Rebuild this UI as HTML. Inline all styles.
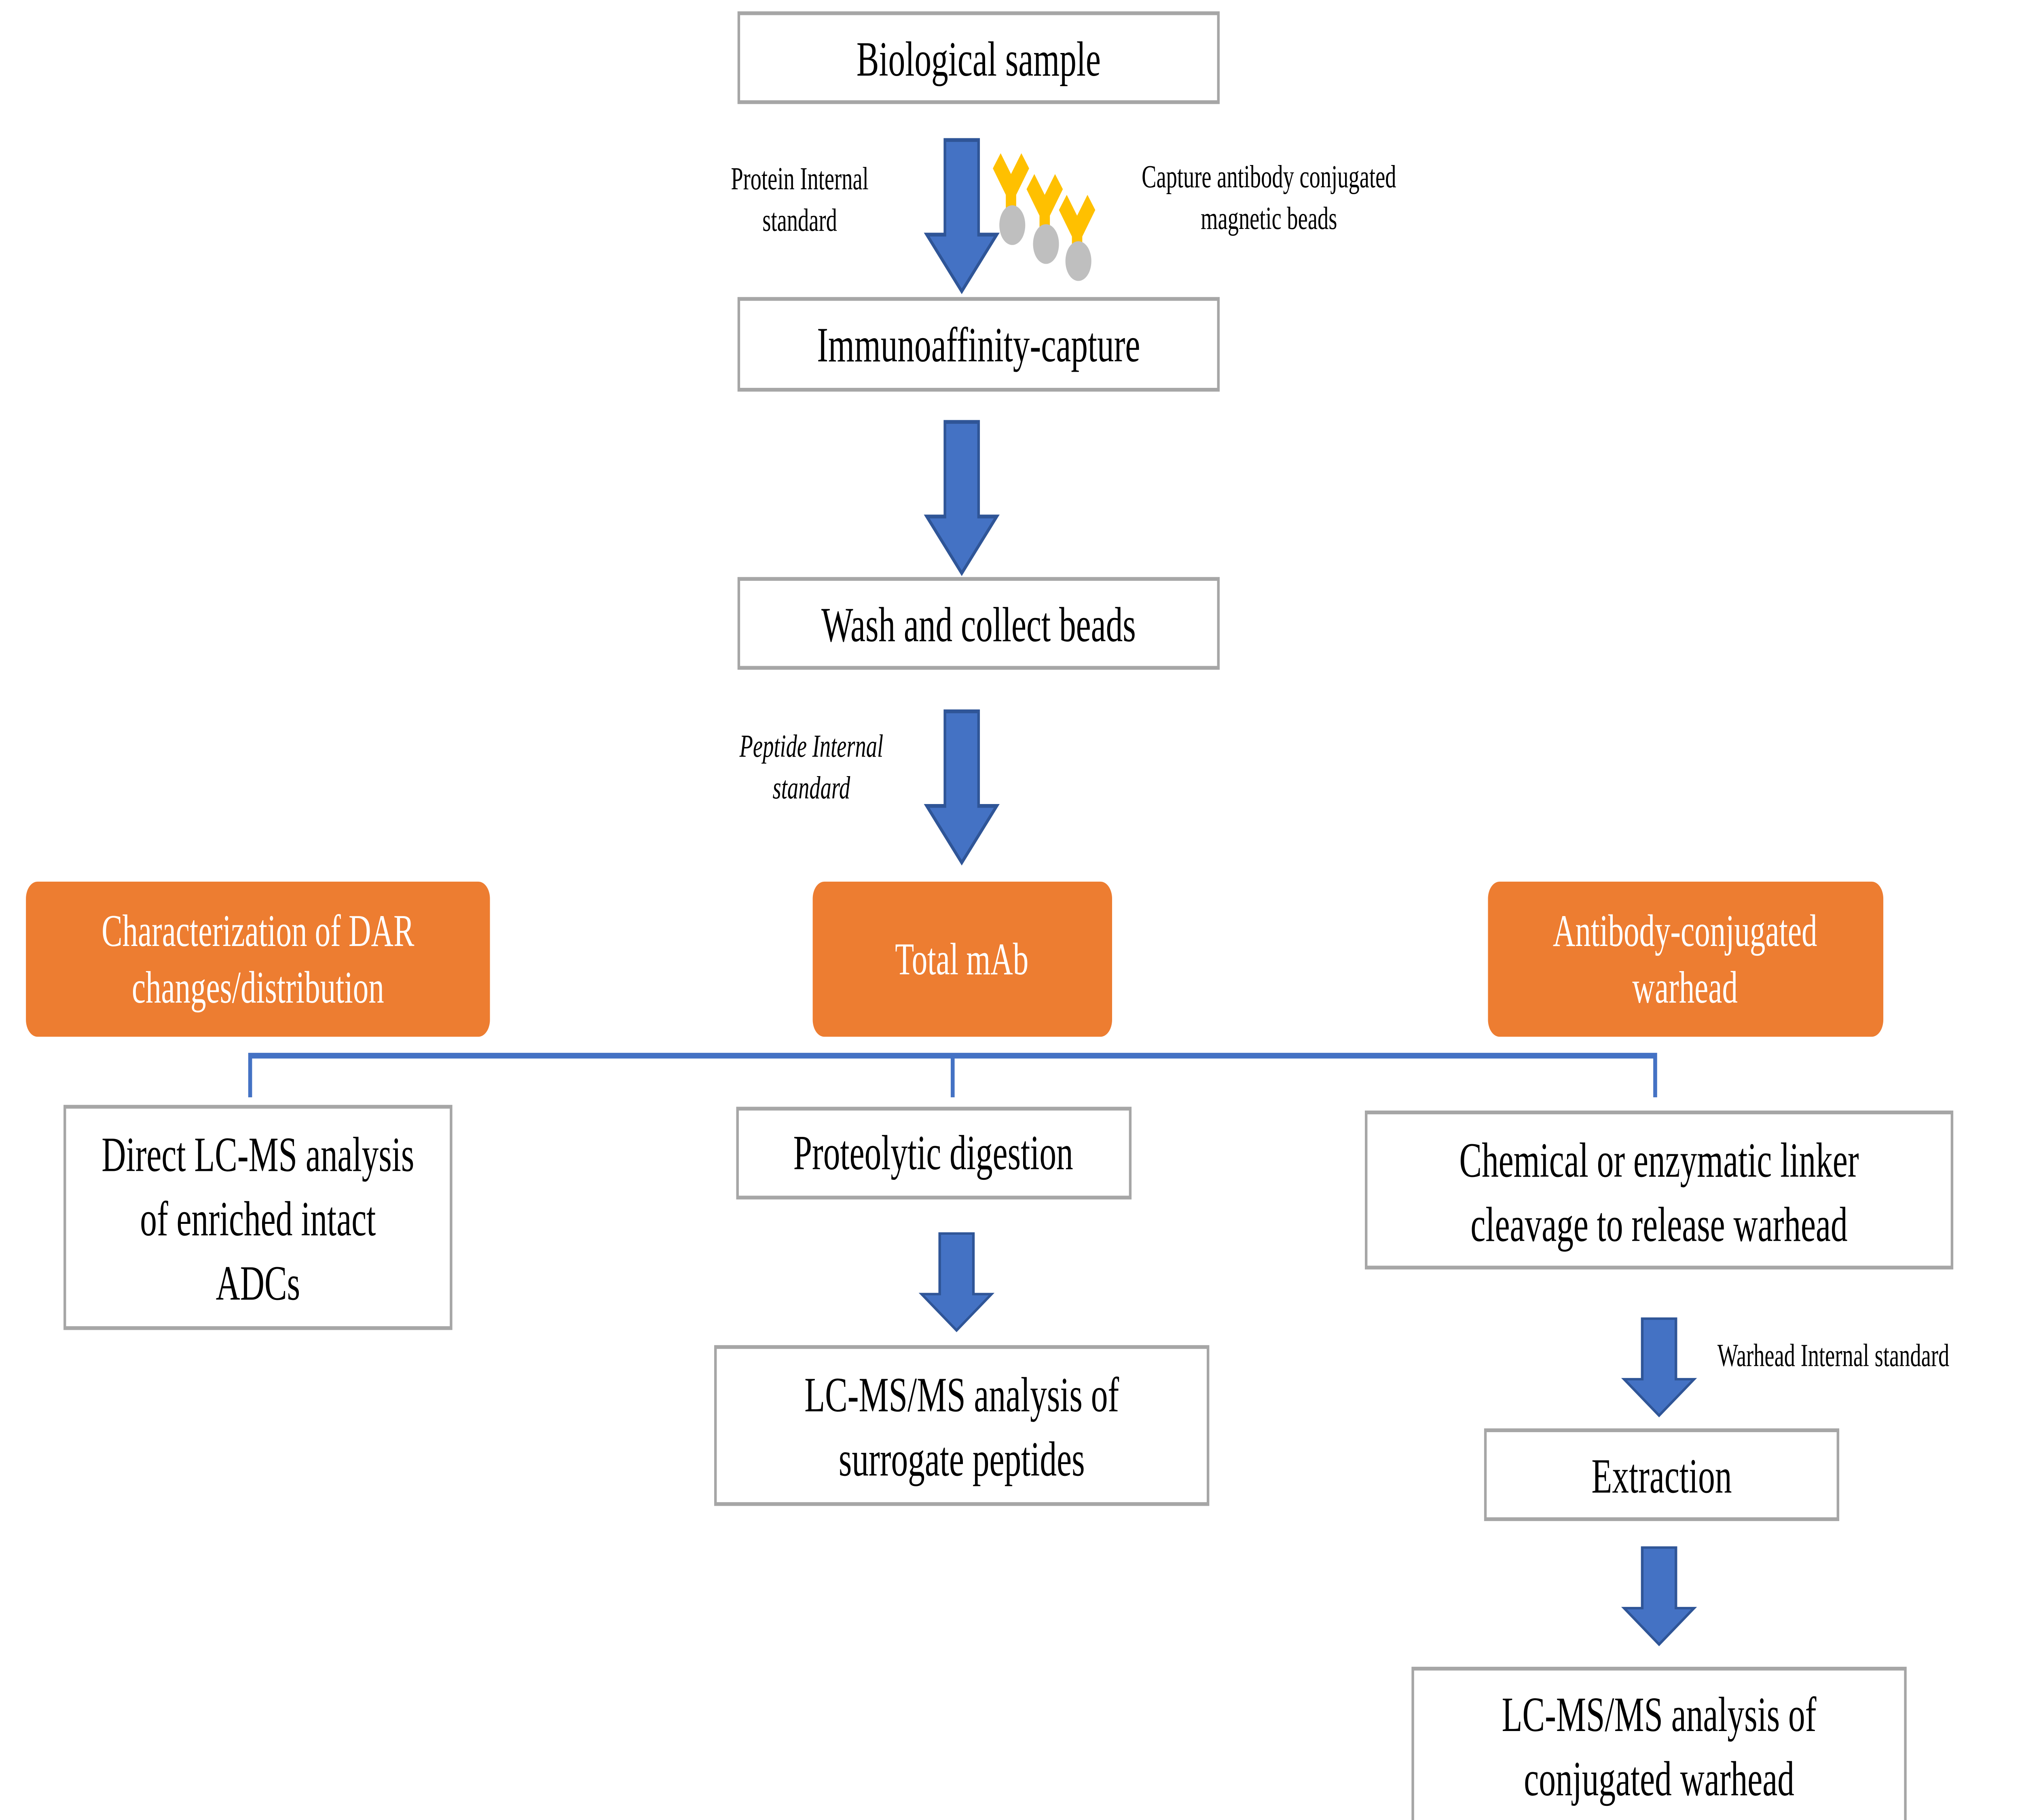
<!DOCTYPE html>
<html><head><meta charset="utf-8"><style>
html,body{margin:0;padding:0;background:#fff;width:100%;height:100%;overflow:hidden}
svg{display:block;position:fixed;left:0;top:0;width:100vw;height:100vh}
text{font-family:"Liberation Serif",serif}
.w{fill:#fff}
.k{fill:#000}
</style></head><body>
<svg viewBox="0 0 1560 962" preserveAspectRatio="none" xmlns="http://www.w3.org/2000/svg">
<defs>
<g id="arr"><path d="M-13,0 H13 V50 H27 L0,80 L-27,50 H-13 Z" fill="#4472C4" stroke="#2F5597" stroke-width="2"/></g>
</defs>
<g fill="#fff" stroke="#A6A6A6" stroke-width="2">
<rect x="570" y="7" width="370" height="47"/>
<rect x="570" y="158" width="370" height="48"/>
<rect x="570" y="306" width="370" height="47"/>
<rect x="50" y="585" width="298" height="117"/>
<rect x="569" y="586" width="303" height="47"/>
<rect x="552" y="712" width="380" height="83"/>
<rect x="1054" y="588" width="452" height="82"/>
<rect x="1146" y="756" width="272" height="47"/>
<rect x="1090" y="882" width="380" height="81"/>
</g>
<use href="#arr" x="742" y="74"/>
<use href="#arr" x="742" y="223"/>
<use href="#arr" x="742" y="376"/>
<g transform="translate(738,652) scale(1,0.64)"><use href="#arr"/></g>
<g transform="translate(1280,697) scale(1,0.64)"><use href="#arr"/></g>
<g transform="translate(1280,818) scale(1,0.64)"><use href="#arr"/></g>
<g fill="#FFC000">
<path d="M766,89 L772,81 L780,92 L788,81 L794,89 L784,103 V116 H776 V103 Z"/>
<path d="M792,100 L798,92 L806,103 L814,92 L820,100 L810,114 V126 H802 V114 Z"/>
<path d="M817,111 L823,103 L831,114 L839,103 L845,111 L835,125 V136 H827 V125 Z"/>
</g>
<g fill="#BFBFBF">
<ellipse cx="781" cy="119" rx="10" ry="10.5"/>
<ellipse cx="807" cy="129" rx="10" ry="10.5"/>
<ellipse cx="832" cy="138" rx="10" ry="10.5"/>
</g>
<g fill="#ED7D31">
<rect x="20" y="466" width="358" height="82" rx="9"/>
<rect x="627" y="466" width="231" height="82" rx="9"/>
<rect x="1148" y="466" width="305" height="82" rx="9"/>
</g>
<path d="M193,580 V558 H1277 V580 M735,558 V580" fill="none" stroke="#4472C4" stroke-width="3"/>
<g font-size="26" text-anchor="middle">
<text class="k" x="755" y="40">Biological sample</text>
<text class="k" x="755" y="191">Immunoaffinity-capture</text>
<text class="k" x="755" y="339">Wash and collect beads</text>
<text class="k" x="199" y="619">Direct LC-MS analysis</text>
<text class="k" x="199" y="653">of enriched intact</text>
<text class="k" x="199" y="687">ADCs</text>
<text class="k" x="720" y="618">Proteolytic digestion</text>
<text class="k" x="742" y="746">LC-MS/MS analysis of</text>
<text class="k" x="742" y="780">surrogate peptides</text>
<text class="k" x="1280" y="622">Chemical or enzymatic linker</text>
<text class="k" x="1280" y="656">cleavage to release warhead</text>
<text class="k" x="1282" y="789">Extraction</text>
<text class="k" x="1280" y="915">LC-MS/MS analysis of</text>
<text class="k" x="1280" y="949">conjugated warhead</text>
</g>
<g font-size="24" text-anchor="middle">
<text class="w" x="199" y="500">Characterization of DAR</text>
<text class="w" x="199" y="530">changes/distribution</text>
<text class="w" x="742" y="515">Total mAb</text>
<text class="w" x="1300" y="500">Antibody-conjugated</text>
<text class="w" x="1300" y="530">warhead</text>
</g>
<g font-size="17" text-anchor="middle">
<text class="k" x="617" y="100">Protein Internal</text>
<text class="k" x="617" y="122">standard</text>
<text class="k" x="979" y="99">Capture antibody conjugated</text>
<text class="k" x="979" y="121">magnetic beads</text>
<text class="k" x="626" y="400" font-style="italic">Peptide Internal</text>
<text class="k" x="626" y="422" font-style="italic">standard</text>
</g>
<text class="k" x="1325" y="722" font-size="17">Warhead Internal standard</text>
</svg>
</body></html>
